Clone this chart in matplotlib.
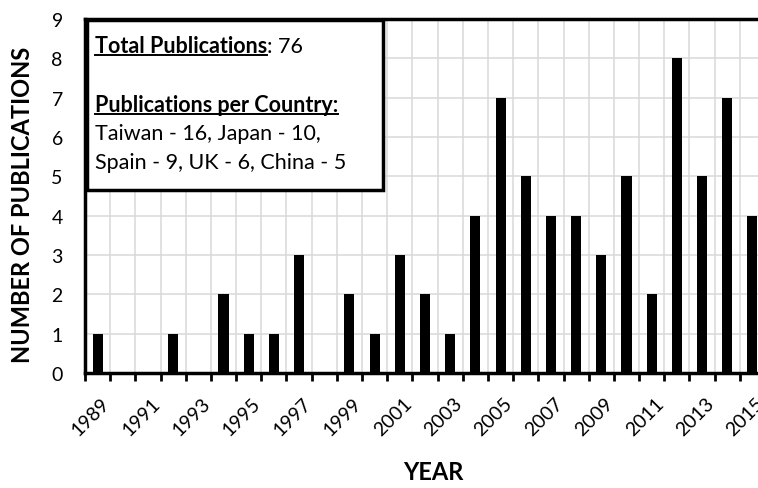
import matplotlib
matplotlib.use("Agg")
import matplotlib.pyplot as plt
from matplotlib.patches import Rectangle
from matplotlib.lines import Line2D
from matplotlib.transforms import ScaledTranslation

plt.rcParams['font.family'] = ['Lato', 'DejaVu Sans']

years = list(range(1989, 2016))
publications = [1, 0, 0, 1, 0, 2, 1, 1, 3, 0, 2, 1, 3, 2, 1, 4, 7, 5, 4, 4, 3, 5, 2, 8, 5, 7, 4]
total_label = "Total Publications"
total_value = ": 76"
country_title = "Publications per Country:"
country_lines = ["Taiwan - 16, Japan - 10,", "Spain - 9, UK - 6, China - 5"]

W, H = 758, 489
fig = plt.figure(figsize=(W / 100, H / 100), dpi=100)
ax = fig.add_axes([85 / W, 1 - 374 / H, (765 - 85) / W, (374 - 20) / H])

x = list(range(len(years)))
ax.bar(x, publications, width=0.4, color='black', zorder=3)

ax.set_xlim(-0.5, len(years) - 0.5)
ax.set_ylim(0, 9)
ax.set_yticks(range(0, 10))
ax.tick_params(axis='y', length=0, pad=16, labelsize=14, labelcolor='black')

ax.set_xticks(x[::2])
ax.set_xticklabels([str(y) for y in years[::2]], rotation=45, ha='right',
                   rotation_mode='anchor', fontsize=14)
ax.set_xticks([i - 0.5 for i in range(len(years) + 1)], minor=True)
ax.tick_params(axis='x', which='major', length=0, pad=15)
ax.tick_params(axis='x', which='minor', length=6, width=2, color='black', direction='out')
for lab in ax.get_xticklabels():
    lab.set_transform(lab.get_transform() + ScaledTranslation(3.0 / 100, 0, fig.dpi_scale_trans))

ax.grid(False)
ax.yaxis.grid(True, color='#d9d9d9', linewidth=1.1, zorder=0)
ax.xaxis.grid(True, which='minor', color='#d9d9d9', linewidth=1.1, zorder=0)
ax.set_axisbelow(True)

for s in ['left', 'bottom', 'top', 'right']:
    ax.spines[s].set_linewidth(2.5)
    ax.spines[s].set_color('black')
    ax.spines[s].set_zorder(4)

fig.text(23 / W, 1 - 205 / H, "NUMBER OF PUBLICATIONS", rotation=90, ha='center', va='center',
         fontsize=17, fontweight='bold')
fig.text(433 / W, 1 - 473 / H, "YEAR", ha='center', va='center', fontsize=17, fontweight='bold')

# Text box
rect = Rectangle((87 / W, 1 - 191 / H), (383 - 87) / W, (191 - 21) / H, transform=fig.transFigure,
                 facecolor='white', edgecolor='black', linewidth=2.5, zorder=10, clip_on=False)
fig.add_artist(rect)

fs = 15.5
tx = 95 / W
t1 = fig.text(tx, 1 - 53 / H, total_label, fontsize=fs, fontweight='bold', va='baseline', zorder=11)
t2 = fig.text(tx, 1 - 112 / H, country_title, fontsize=fs, fontweight='bold', va='baseline', zorder=11)
fig.text(tx, 1 - 140 / H, country_lines[0], fontsize=fs, va='baseline', zorder=11)
fig.text(tx, 1 - 169 / H, country_lines[1], fontsize=fs, va='baseline', zorder=11)

fig.canvas.draw()
r = fig.canvas.get_renderer()
inv = fig.transFigure.inverted()
for t, base in [(t1, 53), (t2, 112)]:
    bb = t.get_window_extent(r)
    y = 1 - (base + 3) / H
    x0 = inv.transform((bb.x0, 0))[0]
    x1 = inv.transform((bb.x1, 0))[0]
    fig.add_artist(Line2D([x0, x1], [y, y], transform=fig.transFigure, color='black',
                          linewidth=1.4, zorder=11))
bb1 = t1.get_window_extent(r)
fig.text(inv.transform((bb1.x1, 0))[0], 1 - 53 / H, total_value, fontsize=fs, va='baseline', zorder=11)

fig.savefig("out.png", dpi=100)
